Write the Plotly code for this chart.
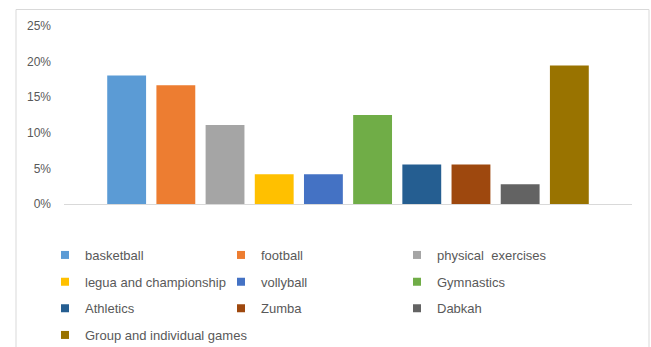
import plotly.graph_objects as go

# Share of respondents per preferred sport activity
categories = [
    "basketball", "football", "physical  exercises", "legua and championship",
    "vollyball", "Gymnastics", "Athletics", "Zumba", "Dabkah",
    "Group and individual games",
]
shares = [0.1806, 0.1667, 0.1111, 0.0417, 0.0417, 0.125, 0.0556, 0.0556, 0.0278, 0.1944]
colors = [
    "#5B9BD5", "#ED7D31", "#A5A5A5", "#FFC000", "#4472C4",
    "#70AD47", "#255E91", "#9E480E", "#636363", "#997300",
]
tick_values = [0, 0.05, 0.10, 0.15, 0.20, 0.25]
tick_labels = ["0%", "5%", "10%", "15%", "20%", "25%"]

W, H = 651, 347
left, right, top, bottom = 64, 19, 26, 143
text_color = "#595959"
font_family = "Liberation Sans, Arial, sans-serif"

fig = go.Figure()
legend_rows = ["legend", "legend2", "legend3", "legend4"]
for i, (name, val, col) in enumerate(zip(categories, shares, colors)):
    fig.add_trace(go.Bar(
        x=["all"], y=[val], name=name,
        marker=dict(color=col, line=dict(width=0)),
        legendgroup=name, showlegend=False,
        hovertemplate="%{fullData.name}: %{y:.1%}<extra></extra>",
    ))
    # small square key for the legend entry
    fig.add_trace(go.Scatter(
        x=[None], y=[None], name=name, mode="markers",
        marker=dict(symbol="square", size=8, color=col, line=dict(width=0)),
        legendgroup=name, legend=legend_rows[i // 3], hoverinfo="skip",
    ))

legend_style = dict(
    orientation="h", xref="container", yref="container",
    xanchor="left", yanchor="middle",
    entrywidth=131, entrywidthmode="pixels",
    font=dict(family=font_family, size=13, color=text_color),
    bgcolor="rgba(0,0,0,0)", borderwidth=0,
    traceorder="normal", itemclick=False, itemdoubleclick=False,
)
row_y = [255, 281.7, 308.3, 335]
legends = {}
for k, name in enumerate(legend_rows):
    legends[name] = dict(legend_style, x=45 / W, y=1 - row_y[k] / H)
legends["legend4"]["entrywidth"] = 0

# Outer chart frame
plot_w = W - left - right
plot_h = H - top - bottom
fx0 = (16 - left) / plot_w
fx1 = (649 - left) / plot_w
fy1 = (H - bottom - 9.5) / plot_h
fy0 = (H - bottom - 360) / plot_h

fig.update_layout(
    width=W, height=H,
    margin=dict(l=left, r=right, t=top, b=bottom, pad=0),
    paper_bgcolor="white", plot_bgcolor="white",
    barmode="group", bargap=0.134, bargroupgap=0.21,
    font=dict(family=font_family, color=text_color),
    xaxis=dict(showticklabels=False, showgrid=False, zeroline=False,
               showline=True, linecolor="#D9D9D9", linewidth=1, ticks=""),
    yaxis=dict(range=[0, 0.25], tickvals=tick_values, ticktext=tick_labels,
               showgrid=False, zeroline=False, showline=False, ticks="",
               tickfont=dict(family=font_family, size=12, color=text_color),
               ticklabelstandoff=12),
    shapes=[dict(type="rect", xref="paper", yref="paper",
                 x0=fx0, x1=fx1, y0=fy0, y1=fy1,
                 line=dict(color="#D9D9D9", width=1), layer="below")],
    showlegend=True,
    **legends,
)

fig.write_html("out.html")
